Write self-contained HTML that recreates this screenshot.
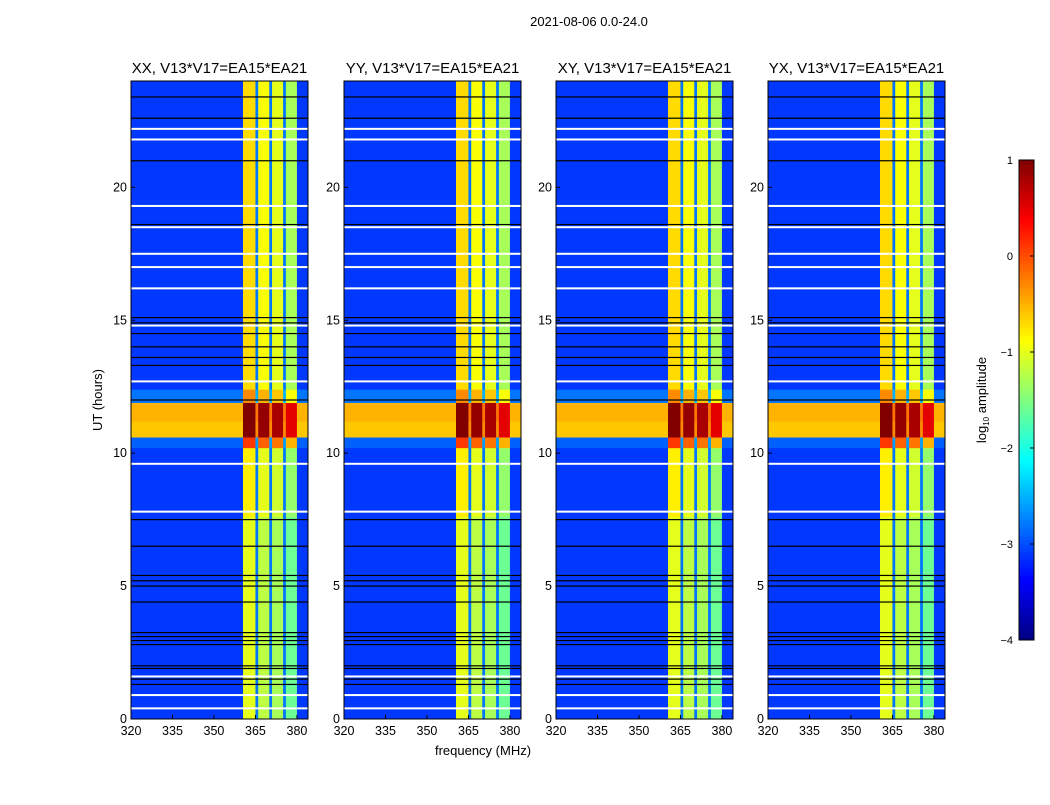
<!DOCTYPE html>
<html><head><meta charset="utf-8"><style>
body{margin:0;background:#fff;}
svg text{font-family:"Liberation Sans",sans-serif;}
</style></head><body>
<svg id="fig" width="1050" height="800" xmlns="http://www.w3.org/2000/svg">
<rect width="1050" height="800" fill="#fff"/>
<text x="589" y="26" font-size="13" text-anchor="middle">2021-08-06 0.0-24.0</text>
<g id="panels"></g>
<g id="cbar"></g>
<text x="483" y="755" font-size="13" text-anchor="middle">frequency (MHz)</text>
<text x="102" y="400" font-size="13" text-anchor="middle" transform="rotate(-90 102 400)">UT (hours)</text>
</svg>
<script>
const panelTitles = ["XX, V13*V17=EA15*EA21","YY, V13*V17=EA15*EA21","XY, V13*V17=EA15*EA21","YX, V13*V17=EA15*EA21"];
const freqEdges = [320, 360.5, 365, 366, 370, 371, 375, 376, 380, 384];
const bandLevel = [-3.1, -0.9, -2.8, -1.1, -2.8, -1.2, -2.8, -1.5, -3.1];
const isBand = [0, 1, 0, 1, 0, 1, 0, 1, 0];
const timeEdges = [0, 7.6, 10.2, 10.6, 11.2, 11.9, 12.4, 24];
const bgBoost = [0, 0, 0.2, 2.5, 2.6, 0.3, 0];
const bandBoost = [-0.1, 0.1, 1.0, 2.0, 2.0, 0.6, 0.2];
const whiteFlags = [0.4, 0.9, 1.6, 7.8, 9.6, 12.7, 14.8, 16.2, 17.0, 17.5, 18.5, 19.3, 21.8, 22.2];
const blackFlags = [1.3, 1.5, 1.9, 2.0, 2.8, 2.95, 3.1, 3.25, 4.4, 5.0, 5.2, 5.4, 6.5, 7.5, 12.0, 13.3, 13.6, 14.0, 14.5, 14.9, 15.1, 18.6, 21.0, 22.6, 23.4];
const xTicks = [320, 335, 350, 365, 380];
const yTicks = [0, 5, 10, 15, 20];
const cbTicks = [-4, -3, -2, -1, 0, 1];

const NS = "http://www.w3.org/2000/svg";
const panelX = [131, 344, 556, 768], PW = 177, PT = 81, PB = 719;
const fmin = 320, fmax = 384, tmin = 0, tmax = 24, vmin = -4, vmax = 1;
function clip(v){return Math.max(0, Math.min(1, v));}
function jet(v){
  const x = clip((v - vmin) / (vmax - vmin));
  const r = clip(1.5 - Math.abs(4*x - 3)), g = clip(1.5 - Math.abs(4*x - 2)), b = clip(1.5 - Math.abs(4*x - 1));
  return `rgb(${Math.round(r*255)},${Math.round(g*255)},${Math.round(b*255)})`;
}
function mk(tag, attrs, parent){const e = document.createElementNS(NS, tag); for (const k in attrs) e.setAttribute(k, attrs[k]); parent.appendChild(e); return e;}
const panels = document.getElementById("panels");
panelTitles.forEach((title, p) => {
  const x0 = panelX[p];
  const xs = f => x0 + (f - fmin) / (fmax - fmin) * PW;
  const ys = t => PB - (t - tmin) / (tmax - tmin) * (PB - PT);
  const g = mk("g", {}, panels);
  
  
  for (let i = 0; i < timeEdges.length - 1; i++) {
    for (let j = 0; j < freqEdges.length - 1; j++) {
      const v = bandLevel[j] + (isBand[j] ? bandBoost[i] : bgBoost[i]);
      const r = mk("rect", {x: xs(freqEdges[j]), y: ys(timeEdges[i+1]), width: xs(freqEdges[j+1]) - xs(freqEdges[j]) + 0.3, height: ys(timeEdges[i]) - ys(timeEdges[i+1]) + 0.3, fill: jet(v)}, g);
      
      
    }
  }
  whiteFlags.forEach(t => {
    const l = mk("rect", {x: x0, y: ys(t) - 1, width: PW, height: 2, fill: "#fff"}, g);
    
    
  });
  blackFlags.forEach(t => {
    const l = mk("rect", {x: x0, y: ys(t) - 0.6, width: PW, height: 1.2, fill: "#000"}, g);
    
    
  });
  const fr = mk("rect", {x: x0, y: PT, width: PW, height: PB - PT, fill: "none", stroke: "#000", "stroke-width": 1}, g);
  
  
  const tt = mk("text", {x: x0 + PW/2, y: 73, "font-size": 15, "text-anchor": "middle"}, g);
  tt.textContent = title;
  
  
  xTicks.forEach(f => {
    mk("line", {x1: xs(f), x2: xs(f), y1: PB, y2: PB - 4, stroke: "#000"}, g);
    const t = mk("text", {x: xs(f), y: PB + 16, "font-size": 12.5, "text-anchor": "middle"}, g);
    t.textContent = f;
    
    
  });
  yTicks.forEach(h => {
    mk("line", {x1: x0, x2: x0 + 4, y1: ys(h), y2: ys(h), stroke: "#000"}, g);
    const t = mk("text", {x: x0 - 4, y: ys(h) + 4, "font-size": 12.5, "text-anchor": "end"}, g);
    t.textContent = h;
    
    
  });
});
const cb = document.getElementById("cbar");


const CX = 1019, CW = 15, CT = 160, CB = 640;
const cy = v => CB - (v - vmin) / (vmax - vmin) * (CB - CT);
for (let k = 0; k < 120; k++) {
  const v0 = vmin + k * (vmax - vmin) / 120, v1 = vmin + (k + 1) * (vmax - vmin) / 120;
  mk("rect", {x: CX, y: cy(v1), width: CW, height: cy(v0) - cy(v1) + 0.5, fill: jet((v0 + v1) / 2)}, cb);
}
mk("rect", {x: CX, y: CT, width: CW, height: CB - CT, fill: "none", stroke: "#000"}, cb);
cbTicks.forEach(v => {
  mk("line", {x1: CX + CW - 4, x2: CX + CW, y1: cy(v), y2: cy(v), stroke: "#000"}, cb);
  const t = mk("text", {x: 1013, y: cy(v) + 4, "font-size": 11, "text-anchor": "end"}, cb);
  t.textContent = v < 0 ? "\u2212" + Math.abs(v) : v;
  
  
});
const cl = mk("text", {x: 986, y: 400, "font-size": 13, "text-anchor": "middle", transform: "rotate(-90 986 400)"}, cb);
cl.innerHTML = 'log<tspan font-size="8" dy="3">10</tspan><tspan dy="-3"> amplitude</tspan>';


</script>
</body></html>
